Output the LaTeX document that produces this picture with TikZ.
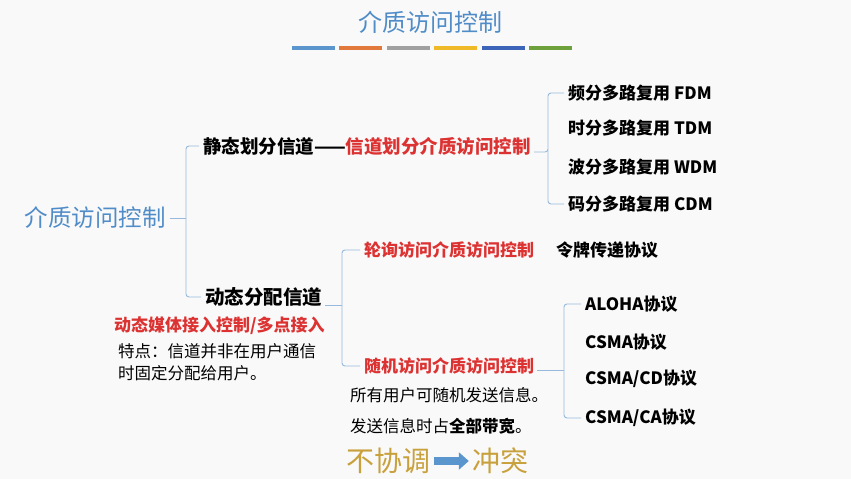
\documentclass[tikz,border=0pt]{standalone}
\usepackage{fontspec}
\usetikzlibrary{arrows.meta}
\setmainfont{Noto Sans CJK SC}
\definecolor{tblue}{RGB}{80,140,200}
\definecolor{tred}{RGB}{220,50,50}
\definecolor{brc}{RGB}{150,185,220}
\definecolor{gold}{RGB}{200,160,60}
\definecolor{c1}{RGB}{90,150,205}
\definecolor{c2}{RGB}{225,120,60}
\definecolor{c3}{RGB}{160,160,160}
\definecolor{c4}{RGB}{240,185,40}
\definecolor{c5}{RGB}{60,100,185}
\definecolor{c6}{RGB}{110,160,60}
\tikzset{
  txt/.style={anchor=west,inner sep=0pt,font=\fontsize{17}{20}\selectfont\bfseries},
  rtxt/.style={txt,text=tred},
  ntxt/.style={anchor=west,inner sep=0pt,font=\fontsize{16.5}{19}\selectfont},
  brace/.style={draw=brc,line width=0.9pt,rounded corners=3pt},
  bar/.style={minimum width=43pt,minimum height=4pt,inner sep=0pt}
}
\begin{document}
\begin{tikzpicture}[x=1pt,y=-1pt]
\useasboundingbox (0,0) rectangle (851,479);
\fill[gray!5] (0,0) rectangle (851,479);
\node[inner sep=0pt,text=tblue,font=\fontsize{24}{28}\selectfont] (title) at (430,22) {介质访问控制};
\foreach \i in {1,...,6}{
  \node[bar,fill=c\i] (bar\i) at ({313+(\i-1)*47.5},48) {};
}
\node[inner sep=0pt,text=tblue,font=\fontsize{23.5}{27}\selectfont] (root) at (95,218) {介质访问控制};
\node[txt,font=\fontsize{18.5}{22}\selectfont\bfseries] (stat) at (203,146) {静态划分信道——\textcolor{tred}{信道划分介质访问控制}};
\node[txt] (fdm) at (568,93) {频分多路复用 FDM};
\node[txt] (tdm) at (568,128) {时分多路复用 TDM};
\node[txt] (wdm) at (568,167) {波分多路复用 WDM};
\node[txt] (cdm) at (568,204) {码分多路复用 CDM};
\node[txt,font=\fontsize{19.5}{23}\selectfont\bfseries] (dyn) at (205,297) {动态分配信道};
\node[rtxt] (poll) at (364,250) {轮询访问介质访问控制};
\node[txt] (token) at (556,250) {令牌传递协议};
\node[rtxt] (rand) at (364,366) {随机访问介质访问控制};
\node[txt] (aloha) at (585,304) {ALOHA协议};
\node[txt] (csma) at (585,342) {CSMA协议};
\node[txt] (cd) at (585,379) {CSMA/CD协议};
\node[txt] (ca) at (585,418) {CSMA/CA协议};
\node[rtxt] (dmac) at (114,326) {动态媒体接入控制/多点接入};
\node[ntxt] (f1) at (118,351) {特点：信道并非在用户通信};
\node[ntxt] (f2) at (118,373) {时固定分配给用户。};
\node[ntxt] (r1) at (350,395) {所有用户可随机发送信息。};
\node[ntxt] (r2) at (350,426) {发送信息时占\textbf{全部带宽}。};
\node[inner sep=0pt,text=gold,font=\fontsize{28}{32}\selectfont] (nc) at (388,461) {不协调};
\node[inner sep=0pt,text=gold,font=\fontsize{28}{32}\selectfont] (cf) at (500,461) {冲突};
\draw[c1,line width=8pt,-{Triangle[length=10pt,width=17pt]}] ([xshift=4pt]nc.east) -- ([xshift=-3pt]cf.west);
% braces
\draw[brace] ([xshift=4pt]root.east) -- (186,218);
\draw[brace] ([xshift=-4pt]stat.west) -| (186,297) -- ([xshift=-4pt]dyn.west);
\draw[brace] ([shift={(3pt,-6pt)}]stat.east) -| (548,93) -- ([xshift=-4pt]fdm.west);
\draw[brace] (548,150) |- ([xshift=-4pt]cdm.west);
\draw[brace] ([shift={(3pt,-8pt)}]dyn.east) -- (342,305);
\draw[brace] ([xshift=-4pt]poll.west) -| (342,366) -- ([xshift=-4pt]rand.west);
\draw[brace] ([shift={(3pt,-4pt)}]rand.east) -- (564,370);
\draw[brace] ([xshift=-4pt]aloha.west) -| (564,418) -- ([xshift=-4pt]ca.west);
\end{tikzpicture}
\end{document}
